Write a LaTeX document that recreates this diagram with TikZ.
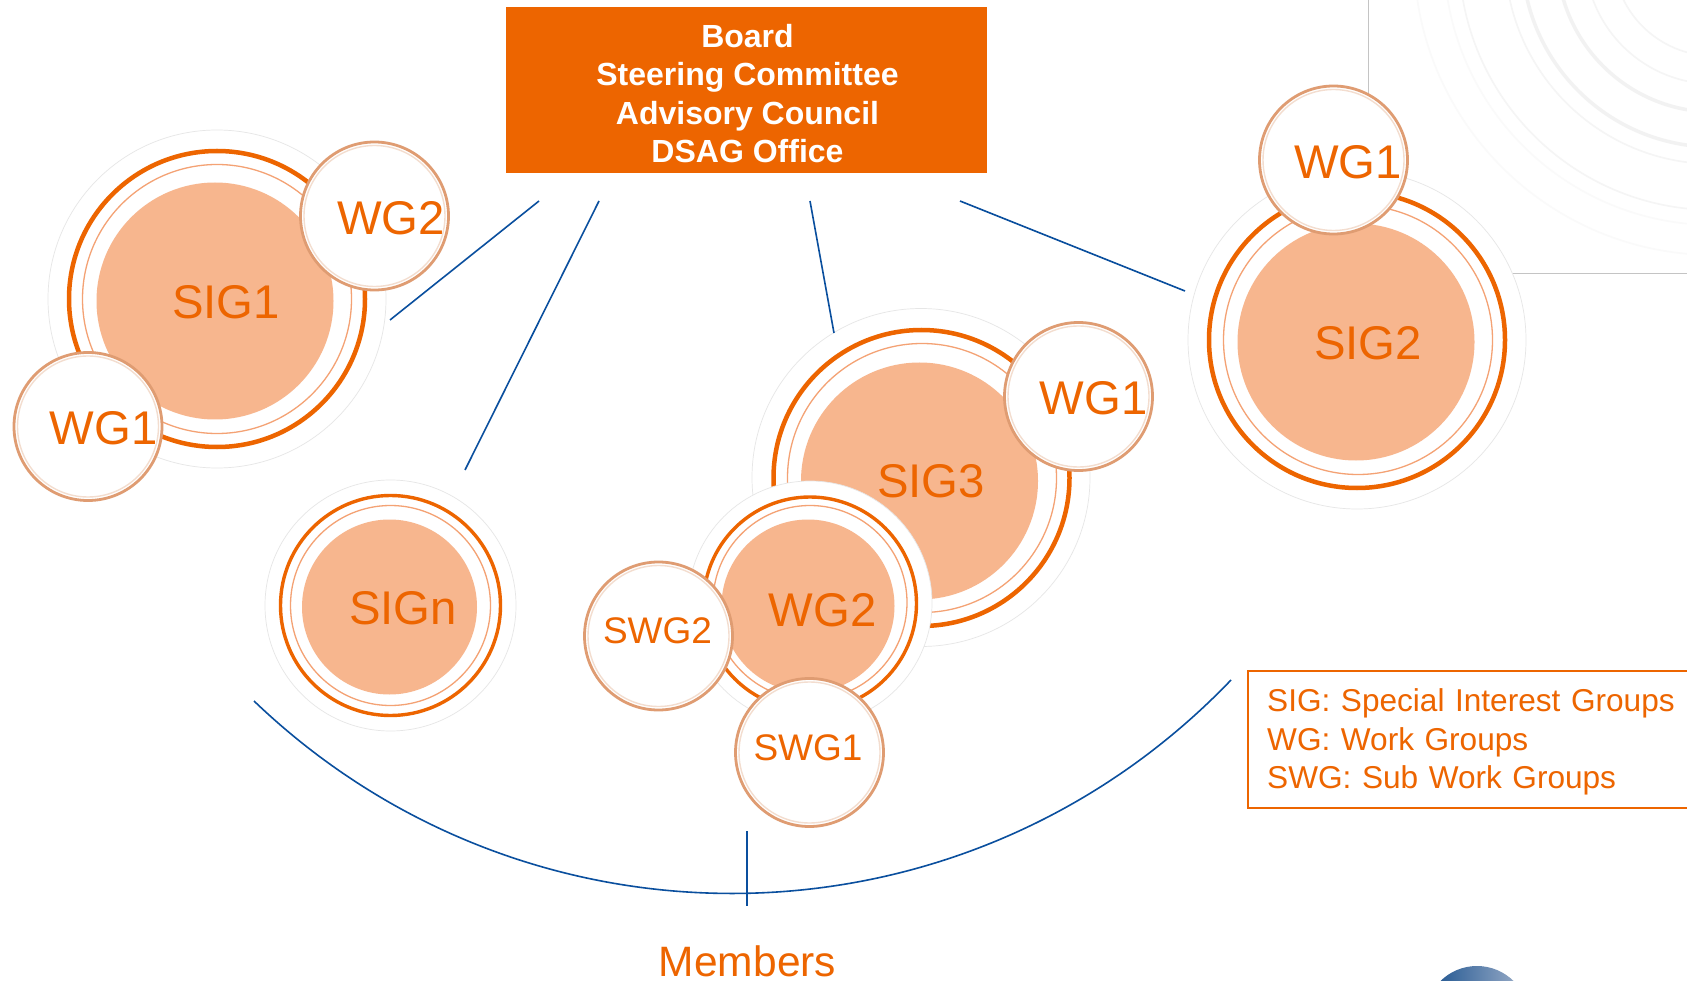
\documentclass[tikz,border=0pt]{standalone}
\usepackage{fontspec}
\setmainfont{Liberation Sans}
\usepackage{tikz}
\definecolor{dsagorange}{HTML}{ED6500}
\definecolor{sigpeach}{HTML}{F7B68E}
\definecolor{thinring}{HTML}{F4A274}
\definecolor{wgedge}{HTML}{DF9C72}
\definecolor{wginner}{HTML}{F3DDCF}
\definecolor{glowgrey}{HTML}{E6E6E6}
\definecolor{framegrey}{HTML}{C4C4C4}
\definecolor{linkblue}{HTML}{0A4F9E}
\definecolor{globedark}{HTML}{174F8C}
\definecolor{globelight}{HTML}{A3B3CC}
\tikzstyle{link} = [draw=linkblue, line width=1.6pt]
\tikzstyle{board} = [rectangle, fill=dsagorange, inner sep=0pt, minimum width=481pt, minimum height=166pt]
\tikzstyle{boardtext} = [inner sep=0pt, text=white, align=center, font=\fontsize{32}{38.3}\selectfont\bfseries]
\tikzstyle{legend} = [draw=dsagorange, line width=2pt, rectangle, anchor=north west, inner sep=0pt, minimum width=442pt, minimum height=137pt]
\tikzstyle{legendtext} = [anchor=west, inner sep=0pt, text width=415pt, align=left, text=dsagorange, font=\fontsize{31.6}{38.5}\selectfont]
\tikzstyle{glow} = [circle, inner sep=0pt, draw=glowgrey, line width=0.7pt, fill=white]
\tikzstyle{ringthick} = [circle, inner sep=0pt, draw=dsagorange, line width=4.5pt]
\tikzstyle{ringthin} = [circle, inner sep=0pt, draw=thinring, line width=1.3pt]
\tikzstyle{core} = [circle, inner sep=0pt, fill=sigpeach]
\tikzstyle{wgcircle} = [circle, inner sep=0pt, draw=wgedge, line width=2.8pt, fill=white, minimum size=148pt]
\tikzstyle{wgrim} = [circle, inner sep=0pt, draw=wginner, line width=1.4pt, minimum size=141pt]
\tikzstyle{biglabel} = [anchor=base, inner sep=0pt, text=dsagorange, font=\fontsize{47.3}{47.3}\selectfont]
\tikzstyle{smalllabel} = [anchor=base, inner sep=0pt, text=dsagorange, font=\fontsize{37}{37}\selectfont]
\tikzstyle{memberlabel} = [anchor=base, inner sep=0pt, text=dsagorange, font=\fontsize{42.5}{42.5}\selectfont]
\tikzstyle{globe} = [circle, inner sep=0pt, minimum size=104pt, left color=globedark, right color=globelight]
\tikzstyle{swirlbold} = [draw=black!5, line width=3.5pt]
\tikzstyle{swirl} = [draw=black!4, line width=1.6pt]
\tikzstyle{swirlpale} = [draw=black!2, line width=1.6pt]
\begin{document}
\begin{tikzpicture}[x=1pt, y=-1pt]
        \useasboundingbox[fill=white] (0,0) rectangle (1687,981);
        \begin{scope}
            \clip (1369,0) rectangle (1687,272);
            \path[swirl] (1714,-45) circle [radius=101pt];
            \path[swirl] (1714,-45) circle [radius=129pt];
            \path[swirlbold] (1714,-45) circle [radius=157pt];
            \path[swirlbold] (1714,-45) circle [radius=192pt];
            \path[swirl] (1714,-45) circle [radius=209pt];
            \path[swirl] (1714,-45) circle [radius=255pt];
            \path[swirlpale] (1714,-45) circle [radius=270pt];
            \path[swirlpale] (1714,-45) circle [radius=300pt];
        \end{scope}
        \draw[framegrey, line width=0.9pt] (1368,0) -- (1368,273) -- (1687,273);
        \node[globe] (globe) at (1477,1018) {};

        \node[board] (office) at (746.5,90) {};
        \node[boardtext] (officetext) at (747.5,93.5) {Board\\Steering Committee\\Advisory Council\\DSAG Office};
        \node[legend] (legendbox) at (1247,670) {};
        \node[legendtext] (legendlines) at (1267,742) {SIG: Special Interest Groups\\WG: Work Groups\\SWG: Sub Work Groups};

        \node[glow, minimum size=338pt] (sig1glow) at (217,299) {};
        \node[ringthick, minimum size=296pt] (sig1ring) at (217,299) {};
        \node[ringthin, minimum size=269pt] (sig1thin) at (217,299) {};
        \node[core, minimum size=237pt] (sig1) at (215,301) {};
        \node[biglabel] (sig1label) at (226,319) {SIG1};
        \node[wgcircle] (sig1wg2) at (374.5,216) {};
        \node[wgrim] (sig1wg2rim) at (374.5,216) {};
        \node[biglabel] (sig1wg2label) at (391,234.5) {WG2};
        \node[wgcircle] (sig1wg1) at (88,426.5) {};
        \node[wgrim] (sig1wg1rim) at (88,426.5) {};
        \node[biglabel] (sig1wg1label) at (103.5,444) {WG1};

        \node[glow, minimum size=338pt] (sig2glow) at (1357,340) {};
        \node[ringthick, minimum size=296pt] (sig2ring) at (1357,340) {};
        \node[ringthin, minimum size=269pt] (sig2thin) at (1358,340) {};
        \node[core, minimum size=237pt] (sig2) at (1356,342) {};
        \node[biglabel] (sig2label) at (1368,360) {SIG2};
        \node[wgcircle] (sig2wg1) at (1333.5,160) {};
        \node[wgrim] (sig2wg1rim) at (1333.5,160) {};
        \node[biglabel] (sig2wg1label) at (1348,178.5) {WG1};

        \node[glow, minimum size=338pt] (sig3glow) at (921,477.5) {};
        \node[ringthick, minimum size=296pt] (sig3ring) at (921.5,478) {};
        \node[ringthin, minimum size=269pt] (sig3thin) at (922,478) {};
        \node[core, minimum size=237pt] (sig3) at (919.5,481) {};
        \node[biglabel] (sig3label) at (931,497) {SIG3};
        \node[wgcircle] (sig3wg1) at (1078.5,396.5) {};
        \node[wgrim] (sig3wg1rim) at (1078.5,396.5) {};
        \node[biglabel] (sig3wg1label) at (1093.5,414.5) {WG1};

        \node[glow, minimum size=244pt] (wg2glow) at (810,603) {};
        \node[ringthick, line width=3.4pt, minimum size=213pt] (wg2ring) at (810,603.5) {};
        \node[ringthin, minimum size=194pt] (wg2thin) at (810,602.5) {};
        \node[core, minimum size=173pt] (wg2) at (808,606) {};
        \node[biglabel] (wg2label) at (822.5,626.5) {WG2};
        \node[wgcircle] (swg2) at (658.5,636) {};
        \node[wgrim] (swg2rim) at (658.5,636) {};
        \node[smalllabel] (swg2label) at (657.5,643) {SWG2};
        \node[wgcircle] (swg1) at (809.5,752.5) {};
        \node[wgrim] (swg1rim) at (809.5,752.5) {};
        \node[smalllabel] (swg1label) at (808,760.5) {SWG1};

        \node[glow, minimum size=251pt] (signglow) at (390.5,605.5) {};
        \node[ringthick, line width=3.4pt, minimum size=220pt] (signring) at (390.5,605.5) {};
        \node[ringthin, minimum size=200pt] (signthin) at (390.5,605.5) {};
        \node[core, minimum size=175pt] (sign) at (389.5,607) {};
        \node[biglabel] (signlabel) at (403,624.5) {SIGn};

        \coordinate (leftfoot) at (539,201);
        \coordinate (sig1end) at (390,320);
        \coordinate (nfoot) at (599,201);
        \coordinate (signend) at (465,470);
        \coordinate (midfoot) at (810,201);
        \coordinate (sig3end) at (834,333);
        \coordinate (rightfoot) at (960,201);
        \coordinate (sig2end) at (1185,291);
        \coordinate (arcleft) at (254,701);
        \coordinate (arcright) at (1231,680);
        \coordinate (stemtop) at (747,831);
        \coordinate (stembottom) at (747,906);
        \path[link] (leftfoot) -- (sig1end);
        \path[link] (nfoot) -- (signend);
        \path[link] (midfoot) -- (sig3end);
        \path[link] (rightfoot) -- (sig2end);
        \path[link] (arcleft) to[bend right=45] (arcright);
        \path[link] (stemtop) -- (stembottom);
        \node[memberlabel] (members) at (747.5,976) {Members};
    \end{tikzpicture}
\end{document}
